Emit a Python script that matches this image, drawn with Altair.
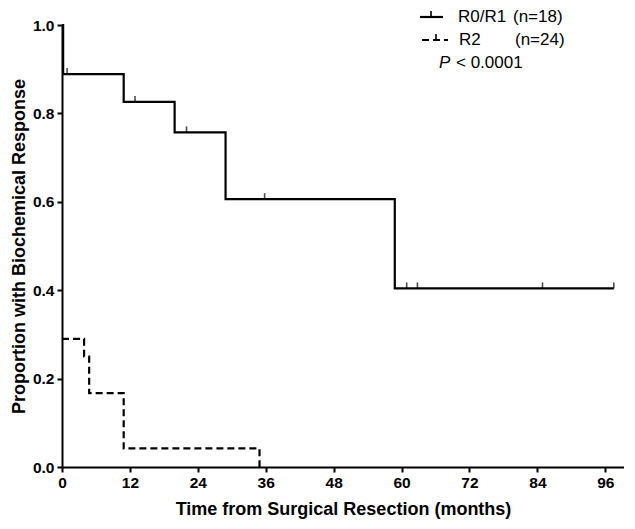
import altair as alt
import pandas as pd

# Kaplan-Meier step data (months, proportion)
r01_times = [0, 0.2, 10.9, 19.9, 28.9, 58.8, 97.5]
r01_surv = [1.0, 0.889, 0.826, 0.757, 0.606, 0.404, 0.404]
r2_times = [0, 3.9, 4.8, 10.9, 34.9]
r2_surv = [0.29, 0.25, 0.167, 0.042, 0.0]

# Censoring marks on R0/R1
cens_times = [0.9, 12.9, 22.0, 35.8, 60.9, 62.8, 84.9, 97.5]
cens_surv = [0.889, 0.826, 0.757, 0.606, 0.404, 0.404, 0.404, 0.404]

x_ticks = [0, 12, 24, 36, 48, 60, 72, 84, 96]
y_ticks = [0.0, 0.2, 0.4, 0.6, 0.8, 1.0]

FONT = "Liberation Sans"

df_r01 = pd.DataFrame({"t": r01_times, "s": r01_surv, "g": "R0/R1"})
df_r2 = pd.DataFrame({"t": r2_times, "s": r2_surv, "g": "R2"})
df_c = pd.DataFrame({"t": cens_times, "s": cens_surv})

xscale = alt.Scale(domain=[0, 99.3], nice=False, zero=False)
yscale = alt.Scale(domain=[0, 1], nice=False)

xaxis = alt.Axis(values=x_ticks, title="Time from Surgical Resection (months)",
                 grid=False, domainColor="black", domainWidth=2, tickColor="black",
                 tickWidth=2, tickSize=5, labelFont=FONT, labelFontSize=15.5,
                 labelFontWeight="bold", labelColor="black", labelPadding=3,
                 titleFont=FONT, titleFontSize=18, titleFontWeight="bold",
                 titleColor="black", titlePadding=10, labelFlush=False)
yaxis = alt.Axis(values=y_ticks, format=".1f", title="Proportion with Biochemical Response",
                 grid=False, domainColor="black", domainWidth=2, tickColor="black",
                 tickWidth=2, tickSize=5, labelFont=FONT, labelFontSize=15.5,
                 labelFontWeight="bold", labelColor="black", labelPadding=3,
                 titleFont=FONT, titleFontSize=18, titleFontWeight="bold",
                 titleColor="black", titlePadding=4, labelFlush=False)

line_r01 = alt.Chart(df_r01).mark_line(interpolate="step-after", color="black",
                                       strokeWidth=2.2).encode(
    x=alt.X("t:Q", scale=xscale, axis=xaxis),
    y=alt.Y("s:Q", scale=yscale, axis=yaxis),
)
line_r2 = alt.Chart(df_r2).mark_line(interpolate="step-after", color="black",
                                     strokeWidth=2.2, strokeDash=[7, 4]).encode(
    x=alt.X("t:Q", scale=xscale),
    y=alt.Y("s:Q", scale=yscale),
)
cens = alt.Chart(df_c).mark_tick(orient="vertical", color="black", size=6,
                                 thickness=1.6, yOffset=-3).encode(
    x=alt.X("t:Q", scale=xscale),
    y=alt.Y("s:Q", scale=yscale),
)

# Legend (manual)
leg_src = pd.DataFrame({"k": [0]})
base = alt.Chart(leg_src)
R1, R2, R3 = -8, 15, 38
sym1 = base.mark_rule(color="black", strokeWidth=2.2).encode(
    x=alt.value(358), x2=alt.value(381), y=alt.value(R1))
sym1t = base.mark_rule(color="black", strokeWidth=1.6).encode(
    x=alt.value(369), y=alt.value(R1 - 6), y2=alt.value(R1))
sym2 = base.mark_rule(color="black", strokeWidth=2.2, strokeDash=[7, 4]).encode(
    x=alt.value(360), x2=alt.value(386), y=alt.value(R2))
sym2t = base.mark_rule(color="black", strokeWidth=1.6).encode(
    x=alt.value(374), y=alt.value(R2 - 6), y2=alt.value(R2))

def txt(s, x, y, style="normal"):
    return base.mark_text(text=s, font=FONT, fontSize=17, fontStyle=style,
                          align="left", baseline="middle", color="black").encode(
        x=alt.value(x), y=alt.value(y))

legend = [sym1, sym1t, sym2, sym2t,
          txt("R0/R1", 396, R1), txt("(n=18)", 451, R1),
          txt("R2", 397, R2), txt("(n=24)", 453, R2),
          txt("P", 377, R3, "italic"), txt("< 0.0001", 394, R3)]

chart = alt.layer(line_r01, line_r2, cens, *legend).properties(
    width=562, height=442,
    autosize=alt.AutoSizeParams(type="none"),
    padding={"left": 54, "top": 17, "right": 0, "bottom": 54},
    background="white",
).configure_view(stroke=None)

chart.save("out.html", embed_options={"renderer": "svg", "actions": False})
